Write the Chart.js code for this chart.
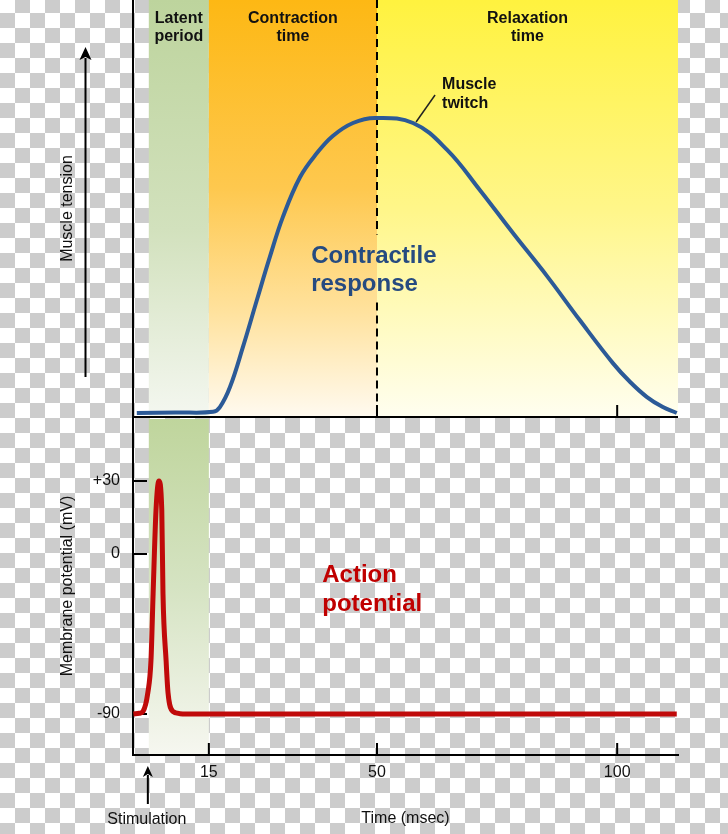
<!DOCTYPE html>
<html>
<head>
<meta charset="utf-8">
<script src="https://cdn.jsdelivr.net/npm/chart.js@4/dist/chart.umd.min.js"></script>
<style>
html, body { margin: 0; padding: 0; }
body {
  width: 728px; height: 834px; overflow: hidden;
  background-color: #ffffff;
  background-image: repeating-conic-gradient(#cccccc 0 25%, #ffffff 0 50%);
  background-size: 30px 30px;
  background-position: 0 -2px;
}
#wrap { position: relative; width: 728px; height: 834px; }
canvas { display: block; }
</style>
</head>
<body>
<div id="wrap"><canvas id="c" width="728" height="834"></canvas></div>
<script>
// ---------------- data ----------------
const PHASE_NAMES = [['Latent', 'period'], ['Contraction', 'time'], ['Relaxation', 'time']];
const PHASE_START = [2.5, 15, 50];
const PHASE_END = [15, 50, 112.66];

const TWITCH_TIME = [0, 8, 15.9, 17.3, 19.4, 22.1, 25.0, 27.7, 30.4, 34.0, 37.5, 40.8, 45.0, 49.6,
                     57.5, 64.6, 71.4, 78.3, 85.4, 92.2, 99.1, 102.7, 106.2, 109.5, 112.4];
const TWITCH_TENSION = [0, 0.2, 0.4, 2.0, 8.8, 22.4, 38.3, 52.9, 66.4, 80.0, 88.1, 93.9, 98.3, 100,
                        98.3, 89.2, 75.6, 61.0, 46.4, 31.5, 16.9, 10.5, 5.4, 2.0, 0];

const AP_TIME = [-0.7, 0.5, 1.3, 2.3, 2.95, 3.4, 4.0, 4.6, 5.2, 5.45, 6.1, 6.5, 7.5, 9, 12, 112.4];
const AP_POTENTIAL = [-90, -89.6, -88.5, -78, -60, -22, 18, 30, 18, -22, -60, -78, -88.5, -89.8, -90, -90];

const X_TICKS = [15, 50, 100];
const TOP_PANEL_TICKS = [50, 100];
const MV_TICKS = [30, 0, -90];
const MV_TICK_LABELS = ['+30', '0', '-90'];
const STIMULUS_TIME = 2.3;
const PEAK_TIME = 50;

// ---------------- axis settings ----------------
const X_MIN = -0.79, X_MAX = 112.66;
const TENSION_MIN = -1.36, TENSION_MAX = 140;
// membrane-potential axis of the original is not linear: positive side is stretched
const MV_POS_STRETCH = 1.3688;
const MV_AXIS_MIN = -113.06, MV_AXIS_MAX = 77.06;

const FONT = '"Liberation Sans", Arial, Helvetica, sans-serif';
const TXT = '#111111';

function mvToAxis(v) { return v >= 0 ? v * MV_POS_STRETCH : v; }
function axisToMv(a) { return a >= 0 ? a / MV_POS_STRETCH : a; }

class WarpScale extends Chart.LinearScale {
  getPixelForValue(v) {
    if (v === null || v === undefined) return NaN;
    return super.getPixelForValue(mvToAxis(v));
  }
  getValueForPixel(p) { return axisToMv(super.getValueForPixel(p)); }
}
WarpScale.id = 'warp';
WarpScale.defaults = {};
Chart.register(WarpScale);

function noPad(s) { s.paddingTop = 0; s.paddingBottom = 0; s.paddingLeft = 0; s.paddingRight = 0; }

// ---------------- styles ----------------
const TOP_STOPS = [
  [[0, '#bdd49d'], [0.55, '#d2e1bd'], [1, '#f4f7f0']],
  [[0, '#fdb814'], [0.45, '#fec84e'], [0.75, '#ffe29e'], [1, '#fffaf0']],
  [[0, '#fff23f'], [0.5, '#fff689'], [0.8, '#fffbc6'], [1, '#fffef0']]
];
const BOTTOM_STOPS = [[0, '#bfd59c'], [0.5, '#d5e3c2'], [1, '#f6f7f0']];

function arrowUp(ctx, x, yTip, yTail, hw, hh) {
  ctx.beginPath();
  ctx.moveTo(x, yTail);
  ctx.lineTo(x, yTip + hh - 2);
  ctx.stroke();
  ctx.beginPath();
  ctx.moveTo(x, yTip);
  ctx.lineTo(x - hw, yTip + hh);
  ctx.lineTo(x, yTip + hh - 3);
  ctx.lineTo(x + hw, yTip + hh);
  ctx.closePath();
  ctx.fill();
}

const decor = {
  id: 'decor',
  beforeDraw(chart) {
    const {ctx, scales: {x, yT, yM}} = chart;
    ctx.save();
    PHASE_START.forEach((s, i) => {
      const x0 = x.getPixelForValue(s), x1 = x.getPixelForValue(PHASE_END[i]);
      const g = ctx.createLinearGradient(0, yT.top, 0, yT.bottom);
      TOP_STOPS[i].forEach(([o, c]) => g.addColorStop(o, c));
      ctx.fillStyle = g;
      ctx.fillRect(x0, yT.top, x1 - x0, yT.bottom - yT.top);
    });
    const bx0 = x.getPixelForValue(PHASE_START[0]), bx1 = x.getPixelForValue(PHASE_END[0]);
    const g2 = ctx.createLinearGradient(0, yM.top, 0, yM.bottom);
    BOTTOM_STOPS.forEach(([o, c]) => g2.addColorStop(o, c));
    ctx.fillStyle = g2;
    ctx.fillRect(bx0, yM.top + 2, bx1 - bx0, yM.bottom - yM.top - 2);
    ctx.restore();
  },
  beforeDatasetsDraw(chart) {
    const {ctx, scales: {x, yT, yM}} = chart;
    ctx.save();
    ctx.strokeStyle = '#000';
    ctx.lineWidth = 2;
    ctx.beginPath();
    ctx.moveTo(x.left, yT.bottom);
    ctx.lineTo(x.right, yT.bottom);
    ctx.stroke();
    const px = x.getPixelForValue(PEAK_TIME);
    const labTop = yT.getPixelForValue(51) - 28;
    const labBot = yT.getPixelForValue(51) + 40;
    ctx.setLineDash([8, 5]);
    ctx.beginPath();
    ctx.moveTo(px, yT.top); ctx.lineTo(px, labTop);
    ctx.moveTo(px, labBot); ctx.lineTo(px, yT.bottom);
    ctx.stroke();
    ctx.setLineDash([]);
    ctx.beginPath();
    TOP_PANEL_TICKS.forEach(v => {
      const tx = x.getPixelForValue(v);
      ctx.moveTo(tx, yT.bottom); ctx.lineTo(tx, yT.bottom - 12);
    });
    X_TICKS.forEach(v => {
      const tx = x.getPixelForValue(v);
      ctx.moveTo(tx, yM.bottom); ctx.lineTo(tx, yM.bottom - 12);
    });
    MV_TICKS.forEach(v => {
      const ty = yM.getPixelForValue(v);
      ctx.moveTo(x.left, ty); ctx.lineTo(x.left + 14, ty);
    });
    ctx.stroke();
    ctx.restore();
  },
  afterDraw(chart) {
    const {ctx, scales: {x, yT, yM}} = chart;
    ctx.save();
    ctx.fillStyle = TXT;
    ctx.textBaseline = 'alphabetic';
    ctx.font = 'bold 16px ' + FONT;
    ctx.textAlign = 'center';
    PHASE_NAMES.forEach((lines, i) => {
      const cx = (x.getPixelForValue(PHASE_START[i]) + x.getPixelForValue(PHASE_END[i])) / 2;
      lines.forEach((t, j) => ctx.fillText(t, cx, yT.top + 23 + j * 18));
    });
    const pkx = x.getPixelForValue(TWITCH_TIME[TWITCH_TENSION.indexOf(100)]);
    const pky = yT.getPixelForValue(100);
    ctx.textAlign = 'left';
    ctx.fillText('Muscle', pkx + 67, pky - 29);
    ctx.fillText('twitch', pkx + 67, pky - 10);
    ctx.strokeStyle = '#222';
    ctx.lineWidth = 1.5;
    ctx.beginPath();
    ctx.moveTo(pkx + 41, pky + 4);
    ctx.lineTo(pkx + 60, pky - 23);
    ctx.stroke();
    ctx.font = 'bold 24px ' + FONT;
    ctx.fillStyle = '#264b80';
    const crx = x.getPixelForValue(36.3);
    const cry = yT.getPixelForValue(51);
    ctx.fillText('Contractile', crx, cry);
    ctx.fillText('response', crx, cry + 28);
    ctx.fillStyle = '#c00000';
    const apx = x.getPixelForValue(38.6);
    const apy = yM.getPixelForValue(0) + 28;
    ctx.fillText('Action', apx, apy);
    ctx.fillText('potential', apx, apy + 29);
    ctx.fillStyle = '#000';
    ctx.strokeStyle = '#000';
    ctx.lineWidth = 2;
    arrowUp(ctx, 85.5, yT.top + 47, yT.bottom - 40, 6, 13);
    const sx = x.getPixelForValue(STIMULUS_TIME);
    arrowUp(ctx, sx, yM.bottom + 11, yM.bottom + 49, 5, 11);
    ctx.fillStyle = TXT;
    ctx.font = '16px ' + FONT;
    ctx.textAlign = 'center';
    ctx.fillText('Stimulation', sx - 1, yM.bottom + 69);
    ctx.restore();
  }
};

const axisTitleFont = {family: FONT, size: 16};

new Chart(document.getElementById('c'), {
  type: 'line',
  data: {
    datasets: [
      {
        label: 'Contractile response',
        data: TWITCH_TIME.map((t, i) => ({x: t, y: TWITCH_TENSION[i]})),
        yAxisID: 'yT',
        borderColor: '#2c5a97',
        borderWidth: 4,
        pointRadius: 0,
        tension: 0.4,
        fill: false
      },
      {
        label: 'Action potential',
        data: AP_TIME.map((t, i) => ({x: t, y: AP_POTENTIAL[i]})),
        yAxisID: 'yM',
        borderColor: '#c00a0a',
        borderWidth: 5,
        pointRadius: 0,
        cubicInterpolationMode: 'monotone',
        fill: false
      }
    ]
  },
  options: {
    responsive: false,
    animation: false,
    devicePixelRatio: 1,
    layout: {padding: {left: 0, right: 50, top: 0, bottom: 0}},
    plugins: {legend: {display: false}, tooltip: {enabled: false}},
    scales: {
      x: {
        type: 'linear',
        min: X_MIN, max: X_MAX,
        afterBuildTicks: s => { s.ticks = X_TICKS.map(v => ({value: v})); },
        ticks: {color: TXT, font: {family: FONT, size: 16}, padding: 8, maxRotation: 0, autoSkip: false,
                callback: v => String(v)},
        grid: {display: false, drawTicks: false},
        border: {display: true, color: '#000', width: 2},
        title: {display: true, text: 'Time (msec)', color: TXT, font: axisTitleFont, padding: {top: 0, bottom: 6}},
        afterFit: s => { s.height = 79; noPad(s); }
      },
      yM: {
        type: 'warp',
        position: 'left',
        stack: 'panels',
        stackWeight: 338,
        min: MV_AXIS_MIN, max: MV_AXIS_MAX,
        afterBuildTicks: s => { s.ticks = MV_TICKS.map(v => ({value: v})); },
        ticks: {color: TXT, font: {family: FONT, size: 16}, padding: 13, autoSkip: false,
                callback: (v, i) => MV_TICK_LABELS[i]},
        grid: {display: false, drawTicks: false},
        border: {display: true, color: '#000', width: 2},
        title: {display: true, text: 'Membrane potential (mV)', color: TXT, font: axisTitleFont, padding: {top: 58, bottom: 0}},
        afterFit: s => { s.width = 133; noPad(s); }
      },
      yT: {
        type: 'linear',
        position: 'left',
        stack: 'panels',
        stackWeight: 417,
        min: TENSION_MIN, max: TENSION_MAX,
        ticks: {display: false},
        grid: {display: false, drawTicks: false},
        border: {display: true, color: '#000', width: 2},
        title: {display: true, text: 'Muscle tension', color: TXT, font: axisTitleFont, padding: {top: 58, bottom: 0}},
        afterFit: s => { s.width = 133; noPad(s); }
      }
    }
  },
  plugins: [decor]
});
</script>
</body>
</html>
